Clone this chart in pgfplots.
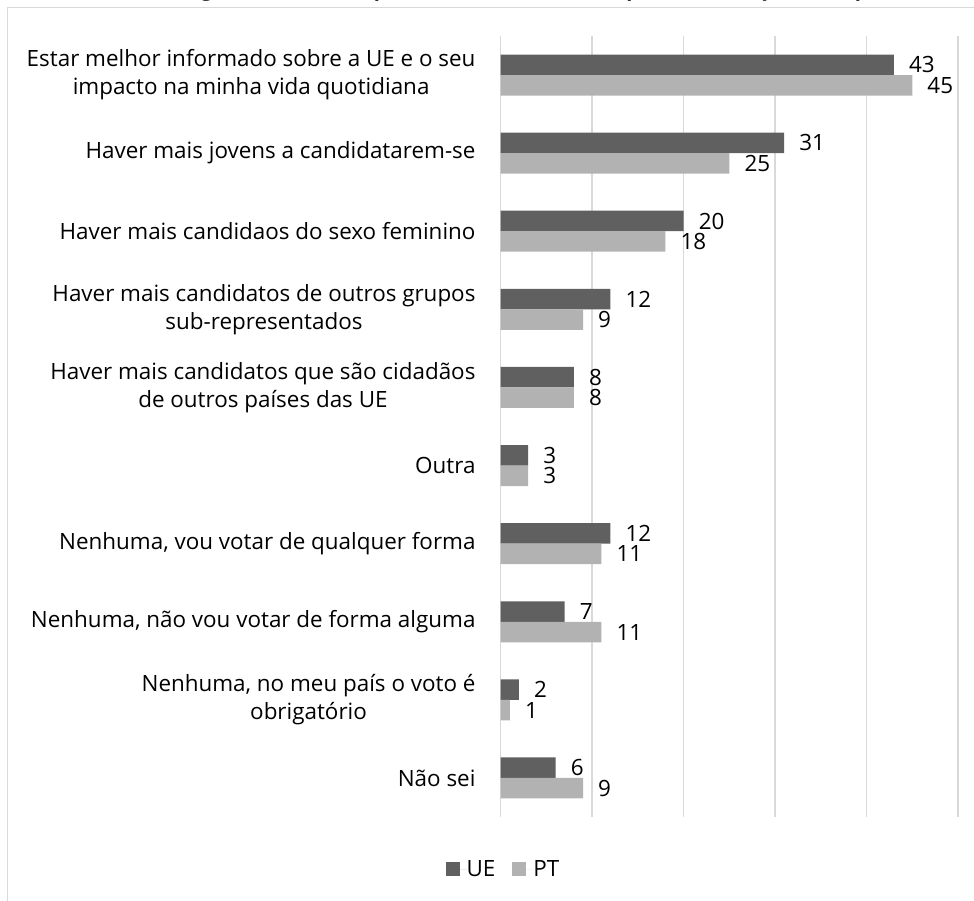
\documentclass[border=0pt]{standalone}
\usepackage{fontspec}
\setmainfont{Open Sans}
\usepackage{pgfplots}
\pgfplotsset{compat=1.18}
\definecolor{ue}{HTML}{606060}
\definecolor{pt}{HTML}{B2B2B2}
\definecolor{gridc}{HTML}{D9D9D9}
\newcommand{\lbl}{\fontsize{22.5}{28}\selectfont}

\begin{document}
\begin{tikzpicture}
\begin{axis}[
  xbar, bar width=20.5bp,
  scale only axis, width=457.3bp, height=781bp,
  xmin=0, xmax=50, ymin=-0.5, ymax=9.5,
  xtick={0,10,...,50}, xticklabels={},
  ytick={0,...,9},
  yticklabels={
    {Não sei},
    {Nenhuma, no meu país o voto é\\obrigatório},
    {Nenhuma, não vou votar de forma alguma},
    {Nenhuma, vou votar de qualquer forma},
    {Outra},
    {Haver mais candidatos que são cidadãos\\de outros países das UE},
    {Haver mais candidatos de outros grupos\\sub-representados},
    {Haver mais candidaos do sexo feminino},
    {Haver mais jovens a candidatarem-se},
    {Estar melhor informado sobre a UE e o seu\\impacto na minha vida quotidiana}},
  major tick length=0pt,
  axis line style={draw=none},
  xmajorgrids, grid style={gridc, line width=1.5bp},
  yticklabel style={align=center, font=\lbl, inner sep=0pt, xshift=-25bp},
  /pgf/number format/assume math mode=true,
  nodes near coords,
  nodes near coords style={font=\lbl, anchor=west, inner sep=0pt, xshift=15bp, text=black},
  every axis plot/.append style={draw=none},
  legend columns=2,
  legend style={at={(0.004,-0.0666)}, anchor=center, draw=none, font=\lbl,
    nodes={inner sep=0pt},
    /tikz/every even column/.append style={column sep=17bp},
    /tikz/every odd column/.append style={column sep=0bp}},
  legend image code/.code={\fill[#1] (0bp,-7bp) rectangle (14bp,7bp);
    \path (0bp,0bp) -- (21bp,0bp);},
]
\addplot[fill=ue, bar shift=10.25bp] coordinates {
  (43,9) (31,8) (20,7) (12,6) (8,5) (3,4) (12,3) (7,2) (2,1) (6,0)};
\addplot[fill=pt, bar shift=-10.25bp] coordinates {
  (45,9) (25,8) (18,7) (9,6) (8,5) (3,4) (11,3) (11,2) (1,1) (9,0)};
\legend{UE, PT}
\coordinate (tl) at (rel axis cs:0,1);
\end{axis}
\pgfresetboundingbox
\begin{scope}[shift={(tl)}]
  \path[use as bounding box] (-500.7bp,36bp) rectangle (473.3bp,-865bp);
  \draw[gridc, line width=1.5bp] (-493.2bp,-900bp) -- (-493.2bp,28.5bp) -- (600bp,28.5bp);
  \node[anchor=base, font=\bfseries\fontsize{20}{24}\selectfont, inner sep=0pt]
    at (1.3bp,39.5bp) {Qual dos seguintes fatores o poderia levar a votar nas próximas eleições europeias?};
\end{scope}
\end{tikzpicture}
\end{document}
